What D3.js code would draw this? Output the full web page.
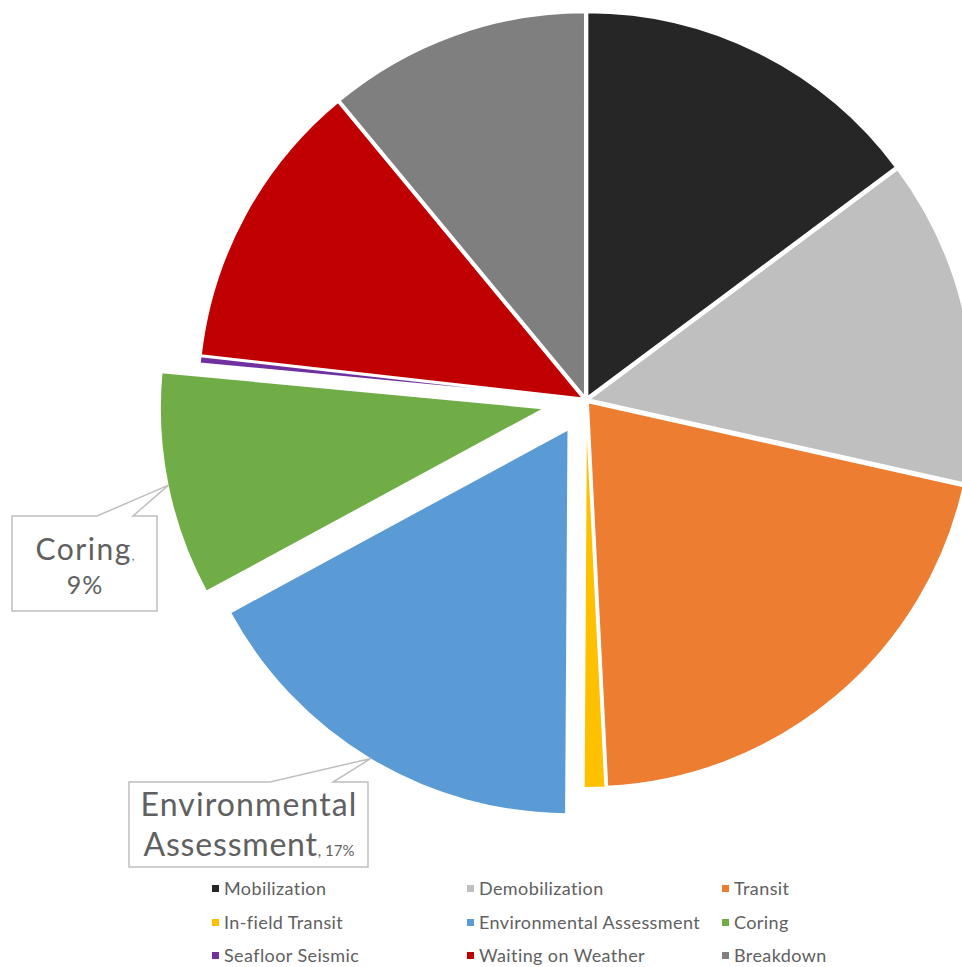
<!DOCTYPE html>
<html>
<head>
<meta charset="utf-8">
<script src="https://cdn.jsdelivr.net/npm/d3@7"></script>
<style>
  body { margin: 0; background: #fff; }
  svg text { font-family: Lato, "Open Sans", sans-serif; fill: #606060; }
</style>
</head>
<body>
<svg id="chart"></svg>
<script>
var categories = ["Mobilization", "Demobilization", "Transit", "In-field Transit",
  "Environmental Assessment", "Coring", "Seafloor Seismic", "Waiting on Weather", "Breakdown"];
var values = [14.8, 13.7, 20.7, 0.9, 17.0, 9.4, 0.3, 12.2, 11.0];
var colors = ["#262626", "#BFBFBF", "#ED7D31", "#FFC000", "#5B9BD5", "#70AD47", "#7030A0", "#C00000", "#7F7F7F"];
var explode = [3, 3, 3, 3, 34, 42, 3, 3, 3];

const width = 962;
const height = 967;
const cx = 586, cy = 400, radius = 385;

var svg = d3.select("#chart").attr("width", width).attr("height", height);

var pie = d3.pie().sort(null).value(d => d);
var arcs = pie(values);
var arc = d3.arc().innerRadius(0).outerRadius(radius);

function offset(d, i) {
  var mid = (d.startAngle + d.endAngle) / 2;
  return [Math.sin(mid) * explode[i], -Math.cos(mid) * explode[i]];
}

var g = svg.append("g").attr("transform", "translate(" + cx + "," + cy + ")");

g.selectAll(".slice")
  .data(arcs)
  .enter().append("path")
  .attr("class", "slice")
  .attr("d", arc)
  .attr("transform", (d, i) => { var o = offset(d, i); return "translate(" + o[0] + "," + o[1] + ")"; })
  .style("fill", (d, i) => colors[i])
  .style("stroke", "#fff")
  .style("stroke-width", 2);

// callout labels
function tip(i) {
  var d = arcs[i];
  var mid = (d.startAngle + d.endAngle) / 2;
  var o = offset(d, i);
  return [cx + o[0] + Math.sin(mid) * (radius - 1), cy + o[1] - Math.cos(mid) * (radius - 1)];
}
function pct(i) { return Math.round(values[i] / d3.sum(values) * 100) + "%"; }

function callout(i, box, px1, px2) {
  var t = tip(i);
  var pts = [[box.x, box.y], [px1, box.y], t, [px2, box.y], [box.x + box.w, box.y],
    [box.x + box.w, box.y + box.h], [box.x, box.y + box.h]];
  svg.append("path")
    .attr("d", d3.line()(pts) + "Z")
    .style("fill", "#fff")
    .style("stroke", "#BFBFBF")
    .style("stroke-width", 1.5);
}

// Coring
callout(5, {x: 12, y: 516, w: 145, h: 95}, 97, 133);
var t1 = svg.append("text").attr("x", 85).attr("y", 560).attr("text-anchor", "middle");
t1.append("tspan").style("font-size", "30px").style("letter-spacing", "1.5px").text("Coring");
t1.append("tspan").style("font-size", "12px").text(",");
svg.append("text").attr("x", 85).attr("y", 594).attr("text-anchor", "middle")
  .style("font-size", "25px").style("letter-spacing", "1px").text(pct(5));

// Environmental Assessment
callout(4, {x: 129, y: 782, w: 239, h: 85}, 270, 333);
svg.append("text").attr("x", 249).attr("y", 816).attr("text-anchor", "middle")
  .style("font-size", "32px").style("letter-spacing", "1.1px").text("Environmental");
var t2 = svg.append("text").attr("x", 249).attr("y", 856).attr("text-anchor", "middle");
t2.append("tspan").style("font-size", "32px").style("letter-spacing", "0.8px").text("Assessment");
t2.append("tspan").style("font-size", "15px").text(", " + pct(4));

// legend
var colX = [212, 467, 722];
var rowY = [895, 929, 962];
var legend = svg.selectAll(".legend")
  .data(categories)
  .enter().append("g")
  .attr("class", "legend")
  .attr("transform", (d, i) => "translate(" + colX[i % 3] + "," + rowY[Math.floor(i / 3)] + ")");
legend.append("rect")
  .attr("x", 0).attr("y", -10).attr("width", 7).attr("height", 7)
  .style("fill", (d, i) => colors[i]);
legend.append("text")
  .attr("x", 12).attr("y", 0)
  .style("font-size", "18px")
  .style("letter-spacing", "0.4px")
  .text(d => d);
</script>
</body>
</html>
